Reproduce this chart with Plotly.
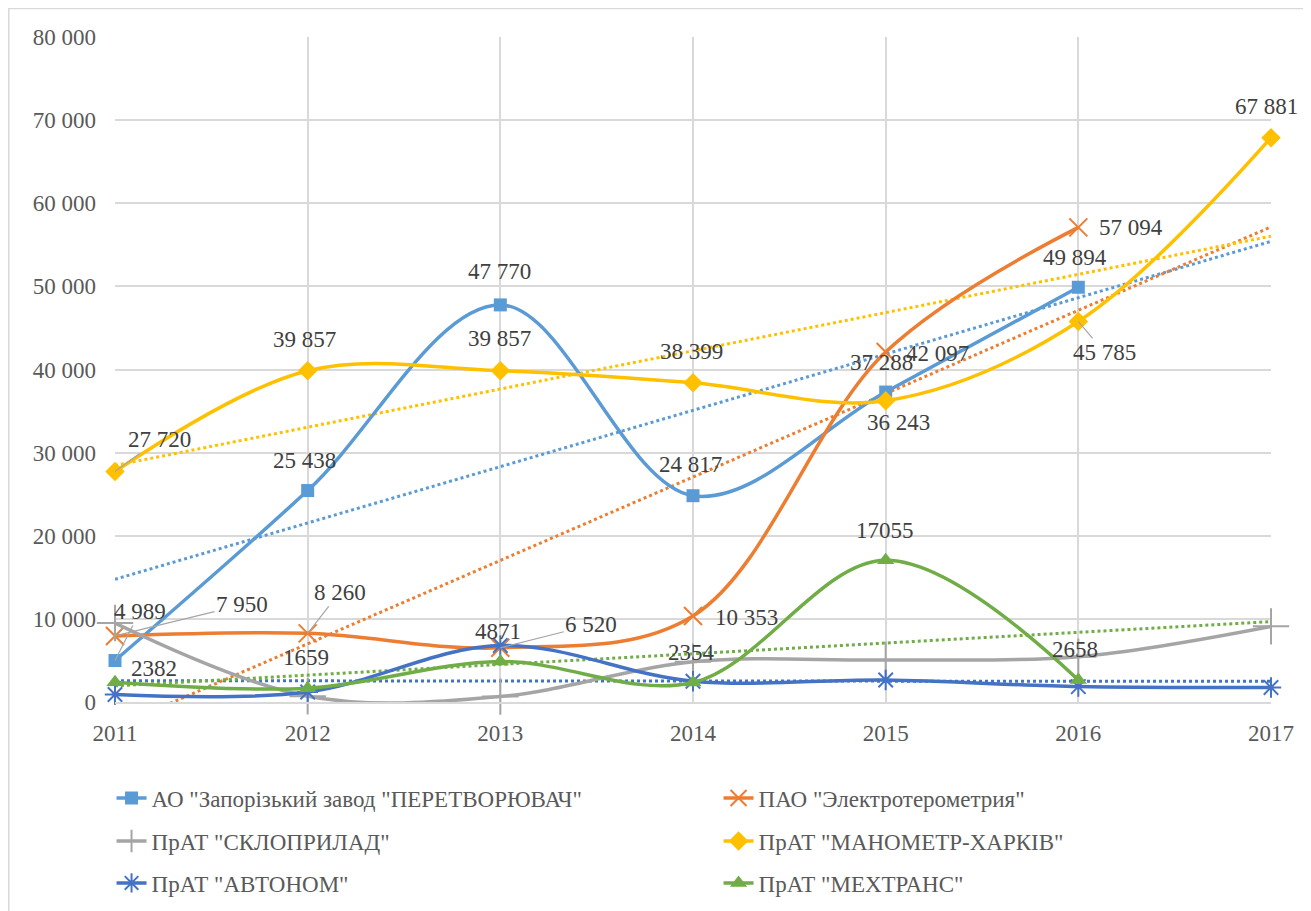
import numpy as np
import plotly.graph_objects as go

years = [2011, 2012, 2013, 2014, 2015, 2016, 2017]

names = [
    'АО "Запорізький завод "ПЕРЕТВОРЮВАЧ"',
    'ПАО "Электротерометрия"',
    'ПрАТ "СКЛОПРИЛАД"',
    'ПрАТ "МАНОМЕТР-ХАРКІВ"',
    'ПрАТ "АВТОНОМ"',
    'ПрАТ "МЕХТРАНС"',
]

peretvoryuvach = [4989, 25438, 47770, 24817, 37288, 49894, None]
elektro = [7950, 8260, 6520, 10353, 42097, 57094, None]
sklopr = [9500, 700, 650, 4850, 5050, 5450, 9100]
manometr = [27720, 39857, 39857, 38399, 36243, 45785, 67881]
avtonom = [900, 1200, 6800, 2500, 2650, 1850, 1750]
mekhtrans = [2382, 1659, 4871, 2354, 17055, 2658, None]

series = [peretvoryuvach, elektro, sklopr, manometr, avtonom, mekhtrans]
colors = ["#5B9BD5", "#ED7D31", "#A5A5A5", "#FFC000", "#4472C4", "#70AD47"]
symbols = ["square", "x-thin-open", "cross-thin-open", "diamond", "asterisk-open", "triangle-up"]
msizes = [13, 18, 26, 15, 17, 15]
has_trend = [True, True, False, True, True, True]
legend_ids = ["legend", "legend2", "legend3", "legend4", "legend5", "legend6"]

# data labels: (series index, year index, text, dx, dy, leader)
labels = [
    (0, 0, "4 989", 25, -49, True),
    (0, 1, "25 438", -3, -30, False),
    (0, 2, "47 770", -1, -33, False),
    (0, 3, "24 817", -3, -31, False),
    (0, 4, "37 288", -4, -30, False),
    (0, 5, "49 894", -3, -30, False),
    (1, 0, "7 950", 127, -31, True),
    (1, 1, "8 260", 32, -41, True),
    (1, 2, "6 520", 91, -23, True),
    (1, 3, "10 353", 53, 2, False),
    (1, 4, "42 097", 52, 1, False),
    (1, 5, "57 094", 53, 0, False),
    (3, 0, "27 720", 44, -32, True),
    (3, 1, "39 857", -3, -31, False),
    (3, 2, "39 857", -1, -32, False),
    (3, 3, "38 399", -2, -31, False),
    (3, 4, "36 243", 13, 22, False),
    (3, 5, "45 785", 26, 31, True),
    (3, 6, "67 881", -5, -31, False),
    (5, 0, "2382", 39, -14, False),
    (5, 1, "1659", -2, -31, False),
    (5, 2, "4871", -2, -30, False),
    (5, 3, "2354", -2, -30, False),
    (5, 4, "17055", -1, -30, False),
    (5, 5, "2658", -3, -30, False),
]

FONT = "Times New Roman, Liberation Serif, DejaVu Serif, serif"

fig = go.Figure()

# trendlines (linear fit of each series, drawn across the whole axis)
for vals, col, tr in zip(series, colors, has_trend):
    if not tr:
        continue
    xs = np.array([i + 1 for i, v in enumerate(vals) if v is not None], dtype=float)
    ys = np.array([v for v in vals if v is not None], dtype=float)
    k, b = np.polyfit(xs, ys, 1)
    xt = np.array([1, 7], dtype=float)
    fig.add_trace(go.Scatter(
        x=[years[0], years[-1]], y=k * xt + b, mode="lines",
        line=dict(color=col, width=3, dash="dot"),
        showlegend=False, hoverinfo="skip", cliponaxis=True,
    ))

for name, vals, col, sym, ms, lg in zip(names, series, colors, symbols, msizes, legend_ids):
    xs = [y for y, v in zip(years, vals) if v is not None]
    ys = [v for v in vals if v is not None]
    thin = "thin" in sym or "open" in sym
    fig.add_trace(go.Scatter(
        x=xs, y=ys, name=name, mode="lines+markers",
        line=dict(color=col, width=3.5, shape="spline", smoothing=1.0),
        marker=dict(symbol=sym, size=ms, color=col,
                    line=dict(color=col, width=2 if thin else 0)),
        cliponaxis=False, legend=lg,
    ))

for si, yi, txt, dx, dy, leader in labels:
    val = series[si][yi]
    if leader:
        fig.add_annotation(x=years[yi], y=val, text=txt, showarrow=True,
                           arrowhead=0, arrowwidth=1.2, arrowcolor="#A6A6A6",
                           ax=dx, ay=dy, standoff=0,
                           font=dict(family=FONT, size=23, color="#404040"))
    else:
        fig.add_annotation(x=years[yi], y=val, text=txt, showarrow=False,
                           xshift=dx, yshift=-dy,
                           font=dict(family=FONT, size=23, color="#404040"))

# chart area border
fig.add_shape(type="rect", xref="paper", yref="paper",
              x0=-0.0919, x1=1.06, y0=-0.36, y1=1.0429,
              line=dict(color="#D9D9D9", width=1.5), fillcolor="rgba(0,0,0,0)", layer="below")

leg_common = dict(orientation="h", font=dict(family=FONT, size=23, color="#595959"),
                  xanchor="left", yanchor="middle", bgcolor="rgba(0,0,0,0)")
col_x = [-0.0030, 0.5221]
row_y = [-0.1444, -0.2090, -0.2722]
legend_layout = {}
for i, lid in enumerate(legend_ids):
    legend_layout[lid] = dict(x=col_x[i % 2], y=row_y[i // 2], **leg_common)

fig.update_layout(
    width=1303, height=903,
    margin=dict(l=107, r=40, t=29, b=209, autoexpand=False),
    paper_bgcolor="white", plot_bgcolor="white",
    separators=". ",
    font=dict(family=FONT, size=23, color="#595959"),
    xaxis=dict(range=[2011, 2017], tickvals=years, ticktext=[str(y) for y in years],
               showgrid=True, gridcolor="#D9D9D9", gridwidth=1.5,
               showline=True, linecolor="#D9D9D9", linewidth=1.5,
               zeroline=False, ticks="", ticklabelstandoff=10,
               tickfont=dict(family=FONT, size=23, color="#595959")),
    yaxis=dict(range=[0, 80000], dtick=10000, tickformat=",d",
               showgrid=True, gridcolor="#D9D9D9", gridwidth=1.5,
               showline=False, zeroline=False, ticks="", ticklabelstandoff=18,
               tickfont=dict(family=FONT, size=23, color="#595959")),
    showlegend=True,
    **legend_layout,
)

fig.write_html("out.html")
